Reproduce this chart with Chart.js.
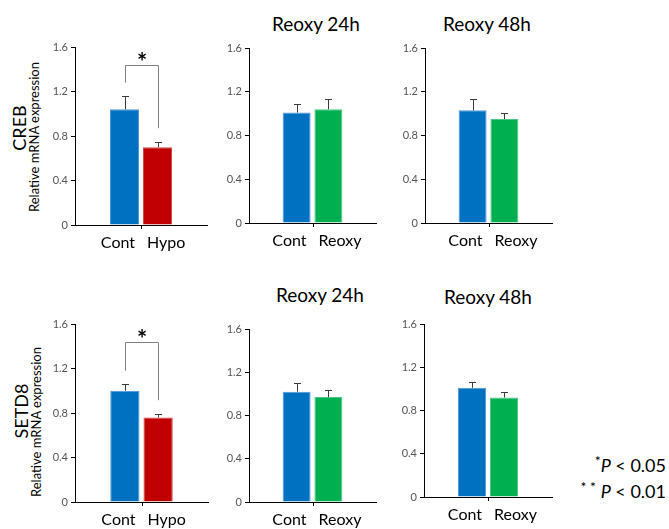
<!DOCTYPE html>
<html><head><meta charset="utf-8">
<script src="https://cdn.jsdelivr.net/npm/chart.js@4"></script>
<style>
html,body{margin:0;padding:0;background:#fff;}
body{width:669px;height:529px;position:relative;overflow:hidden;font-family:Lato,"Open Sans",sans-serif;color:#000;}
canvas{position:absolute;}
.t{position:absolute;transform:translate(-50%,-50%);white-space:nowrap;font-weight:400;}
.r{position:absolute;transform:translate(-50%,-50%) rotate(-90deg);white-space:nowrap;}
</style></head>
<body>
<div class="t" style="left:316px;top:23px;font-size:19px">Reoxy 24h</div>
<div class="t" style="left:487px;top:23px;font-size:19px">Reoxy 48h</div>
<div class="t" style="left:320px;top:294px;font-size:19px">Reoxy 24h</div>
<div class="t" style="left:488px;top:296px;font-size:19px">Reoxy 48h</div>
<div class="r" style="left:19px;top:128px;font-size:18px">CREB</div>
<div class="r" style="left:34px;top:137px;font-size:13px">Relative mRNA expression</div>
<div class="r" style="left:21px;top:411px;font-size:18px">SETD8</div>
<div class="r" style="left:36px;top:422px;font-size:13px">Relative mRNA expression</div>
<div style="position:absolute;right:3px;top:450px;font-size:18px;text-align:right;line-height:22px">
<div><sup style="font-size:14px;vertical-align:6px">*</sup><i>P</i> &lt; 0.05</div>
<div><sup style="font-size:14px;vertical-align:6px">* *</sup> <i>P</i> &lt; 0.01</div>
</div>
<script>
// ---- data ----
const hypoCategories = ['Cont', 'Hypo'];
const reoxyCategories = ['Cont', 'Reoxy'];
const yTicks = [0, 0.4, 0.8, 1.2, 1.6];

const crebHypo = [1.04, 0.70];
const crebHypoErr = [0.12, 0.05];
const crebReoxy24 = [1.01, 1.04];
const crebReoxy24Err = [0.08, 0.09];
const crebReoxy48 = [1.03, 0.95];
const crebReoxy48Err = [0.10, 0.06];

const setd8Hypo = [1.00, 0.76];
const setd8HypoErr = [0.06, 0.035];
const setd8Reoxy24 = [1.02, 0.97];
const setd8Reoxy24Err = [0.08, 0.07];
const setd8Reoxy48 = [1.01, 0.92];
const setd8Reoxy48Err = [0.05, 0.05];

const hypoSignificance = '*';

// ---- styles ----
const COLORS = {Cont: '#0070C0', Hypo: '#C00000', Reoxy: '#00B050'};
const BORDERS = {Cont: '#4F97D8', Hypo: '#D84848', Reoxy: '#45C985'};
const FONT = 'Lato, "Open Sans", sans-serif';
const YW = 45, XH = 30, PT = 12, PR = 12;

const annot = {
  id: 'annot',
  afterDatasetsDraw(chart, args, o) {
    const ctx = chart.ctx, xs = chart.scales.x, ys = chart.scales.y, ca = chart.chartArea;
    const meta = chart.getDatasetMeta(0);
    const vals = chart.data.datasets[0].data;
    ctx.save();
    // error bars (upper only)
    ctx.strokeStyle = '#3a3a3a'; ctx.lineWidth = 1;
    meta.data.forEach((bar, i) => {
      const v = vals[i]; if (v == null) return;
      const e = o.errors[i];
      const px = Math.round(bar.x) + 0.5;
      const y0 = ys.getPixelForValue(v), y1 = Math.round(ys.getPixelForValue(v + e)) + 0.5;
      ctx.beginPath();
      ctx.moveTo(px, y0); ctx.lineTo(px, y1);
      ctx.moveTo(px - 3.5, y1); ctx.lineTo(px + 3.5, y1);
      ctx.stroke();
    });
    // middle tick
    const mid = (xs.getPixelForValue(1) + xs.getPixelForValue(2)) / 2;
    ctx.strokeStyle = '#000';
    ctx.beginPath();
    ctx.moveTo(Math.round(mid) + 0.5, ca.bottom); ctx.lineTo(Math.round(mid) + 0.5, ca.bottom + 4);
    ctx.stroke();
    // significance bracket
    if (o.sig) {
      const xa = Math.round(meta.data[1].x) + 0.5, xb = Math.round(meta.data[2].x) + 0.5;
      const top = Math.round(ys.getPixelForValue(1.44)) + 0.5;
      const ya = ys.getPixelForValue(vals[1] + o.errors[1] + 0.12);
      const yb = ys.getPixelForValue(vals[2] + o.errors[2] + 0.12);
      ctx.strokeStyle = '#808080';
      ctx.beginPath();
      ctx.moveTo(xa, ya); ctx.lineTo(xa, top); ctx.lineTo(xb, top); ctx.lineTo(xb, yb);
      ctx.stroke();
      ctx.fillStyle = '#000';
      ctx.font = 'bold 24px ' + FONT;
      ctx.textAlign = 'center'; ctx.textBaseline = 'alphabetic';
      ctx.fillText(o.sig, (xa + xb) / 2, top + 5);
    }
    // category labels
    ctx.fillStyle = '#000';
    ctx.font = '16px ' + FONT;
    ctx.textBaseline = 'middle';
    const ly = ca.bottom + 18;
    ctx.textAlign = 'right'; ctx.fillText(o.cats[0], mid - 6, ly);
    ctx.textAlign = 'left'; ctx.fillText(o.cats[1], mid + 6, ly);
    ctx.restore();
  }
};

function makePanel(area, cats, values, errors, sig) {
  const cv = document.createElement('canvas');
  const W = area.r - area.l + YW + PR, H = area.b - area.t + PT + XH;
  cv.width = W; cv.height = H;
  cv.style.left = (area.l - YW) + 'px'; cv.style.top = (area.t - PT) + 'px';
  cv.style.width = W + 'px'; cv.style.height = H + 'px';
  document.body.appendChild(cv);
  const labels = ['', ...cats, ''];
  const data = [null, ...values, null];
  const errs = [0, ...errors, 0];
  new Chart(cv, {
    type: 'bar',
    data: {
      labels,
      datasets: [{
        data,
        backgroundColor: labels.map(c => COLORS[c] || '#000'),
        borderColor: labels.map(c => BORDERS[c] || '#000'),
        borderWidth: 1,
        categoryPercentage: 1,
        barPercentage: 0.88
      }]
    },
    options: {
      responsive: false, animation: false, devicePixelRatio: 1,
      layout: {padding: {top: PT, right: PR, left: 0, bottom: 0}},
      plugins: {legend: {display: false}, tooltip: {enabled: false}, title: {display: false},
        annot: {errors: errs, sig, cats}},
      scales: {
        x: {
          type: 'category',
          grid: {display: false},
          border: {display: true, color: '#000', width: 1},
          ticks: {display: false},
          afterFit: s => { s.height = XH; }
        },
        y: {
          min: yTicks[0], max: yTicks[yTicks.length - 1],
          afterBuildTicks: s => { s.ticks = yTicks.map(v => ({value: v})); },
          ticks: {
            callback: v => v === 0 ? '0' : Number(v).toFixed(1),
            font: {size: 11, family: FONT}, color: '#555', padding: 3
          },
          grid: {drawOnChartArea: false, drawTicks: true, tickLength: 4, color: '#000'},
          border: {display: true, color: '#000', width: 1},
          afterFit: s => { s.width = YW; }
        }
      }
    },
    plugins: [annot]
  });
}

makePanel({l: 75, t: 47, r: 207, b: 225}, hypoCategories, crebHypo, crebHypoErr, hypoSignificance);
makePanel({l: 249, t: 48, r: 376, b: 223}, reoxyCategories, crebReoxy24, crebReoxy24Err, null);
makePanel({l: 425, t: 48, r: 552, b: 223}, reoxyCategories, crebReoxy48, crebReoxy48Err, null);
makePanel({l: 75, t: 324, r: 208, b: 502}, hypoCategories, setd8Hypo, setd8HypoErr, hypoSignificance);
makePanel({l: 249, t: 329, r: 376, b: 502}, reoxyCategories, setd8Reoxy24, setd8Reoxy24Err, null);
makePanel({l: 424, t: 324, r: 552, b: 497}, reoxyCategories, setd8Reoxy48, setd8Reoxy48Err, null);
</script>
</body></html>
